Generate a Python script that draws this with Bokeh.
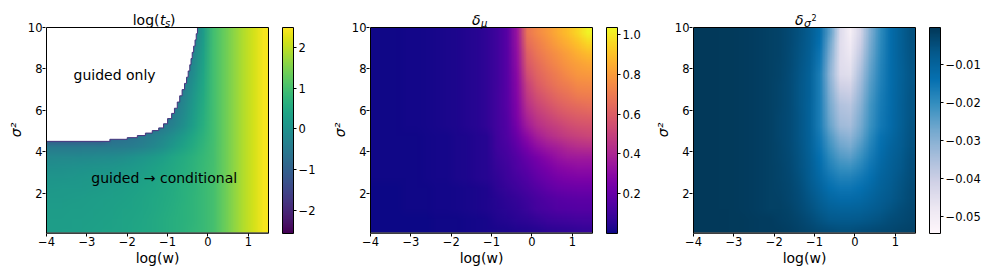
import numpy as np
import zlib, struct, base64
from bokeh.plotting import figure
from bokeh.models import (Range1d, LinearColorMapper, ColorBar, FixedTicker,
                          CustomJSTickFormatter, Label, ColumnDataSource)
from bokeh.layouts import row
from bokeh.core.properties import value
from bokeh.palettes import Viridis256, Plasma256
from bokeh.embed import file_html
from bokeh.resources import INLINE

FONT = "DejaVu Sans"
N = None

# ---------------- axes / grid definition ----------------
X_TICKS = [-4, -3, -2, -1, 0, 1]
Y_TICKS = [2, 4, 6, 8, 10]
X_MIN, X_MAX = -4.0, 1.5        # log(w)
Y_MIN, Y_MAX = 0.0, 10.0        # sigma^2 (grid extent)
Y_VIEW_MIN = 0.05

# ---------------- panel 1: log(t_s) (rows bottom->top, 22 cols of 0.25 in log w, rows of 0.5 in sigma^2)
log_ts = [
    [0.25, 0.26, 0.27, 0.28, 0.30, 0.32, 0.34, 0.37, 0.40, 0.44, 0.49, 0.55, 0.61, 0.68, 0.76, 0.86, 1.00, 1.30, 1.62, 1.90, 2.17, 2.42],
    [0.24, 0.25, 0.26, 0.27, 0.29, 0.31, 0.33, 0.36, 0.39, 0.43, 0.48, 0.54, 0.60, 0.67, 0.75, 0.86, 1.00, 1.30, 1.62, 1.90, 2.17, 2.42],
    [0.22, 0.23, 0.24, 0.25, 0.27, 0.29, 0.31, 0.34, 0.37, 0.41, 0.46, 0.52, 0.59, 0.66, 0.75, 0.86, 1.00, 1.30, 1.62, 1.90, 2.17, 2.42],
    [0.18, 0.19, 0.20, 0.22, 0.24, 0.26, 0.28, 0.31, 0.35, 0.39, 0.44, 0.50, 0.57, 0.65, 0.74, 0.85, 1.00, 1.30, 1.62, 1.90, 2.17, 2.42],
    [0.13, 0.14, 0.15, 0.17, 0.19, 0.21, 0.24, 0.27, 0.31, 0.36, 0.41, 0.48, 0.55, 0.64, 0.73, 0.85, 1.00, 1.30, 1.62, 1.90, 2.17, 2.42],
    [0.06, 0.07, 0.08, 0.10, 0.12, 0.14, 0.17, 0.21, 0.26, 0.31, 0.37, 0.45, 0.53, 0.62, 0.72, 0.84, 0.99, 1.30, 1.62, 1.90, 2.17, 2.42],
    [-0.04, -0.03, -0.02, 0.00, 0.02, 0.04, 0.07, 0.11, 0.16, 0.22, 0.30, 0.39, 0.49, 0.59, 0.70, 0.83, 0.99, 1.30, 1.62, 1.90, 2.17, 2.42],
    [-0.20, -0.19, -0.18, -0.17, -0.15, -0.13, -0.10, -0.06, 0.00, 0.08, 0.18, 0.29, 0.42, 0.55, 0.68, 0.82, 0.98, 1.29, 1.62, 1.90, 2.17, 2.42],
    [-0.55, -0.55, -0.54, -0.53, -0.52, -0.51, -0.50, -0.47, -0.42, -0.34, -0.22, -0.06, 0.13, 0.34, 0.55, 0.76, 0.97, 1.29, 1.62, 1.90, 2.17, 2.42],
    [N, N, N, N, N, N, -0.80, -0.75, -0.65, -0.52, -0.38, -0.22, -0.03, 0.20, 0.45, 0.70, 0.96, 1.29, 1.62, 1.90, 2.17, 2.42],
    [N, N, N, N, N, N, N, N, N, N, -0.70, -0.55, -0.32, -0.05, 0.28, 0.62, 0.96, 1.29, 1.62, 1.90, 2.17, 2.42],
    [N, N, N, N, N, N, N, N, N, N, N, -0.70, -0.45, -0.15, 0.22, 0.58, 0.96, 1.29, 1.62, 1.90, 2.17, 2.42],
    [N, N, N, N, N, N, N, N, N, N, N, N, -0.60, -0.25, 0.15, 0.55, 0.95, 1.29, 1.62, 1.90, 2.17, 2.42],
    [N, N, N, N, N, N, N, N, N, N, N, N, -0.70, -0.35, 0.08, 0.50, 0.95, 1.29, 1.62, 1.90, 2.17, 2.42],
    [N, N, N, N, N, N, N, N, N, N, N, N, N, -0.45, 0.00, 0.45, 0.95, 1.29, 1.62, 1.90, 2.17, 2.42],
    [N, N, N, N, N, N, N, N, N, N, N, N, N, -0.50, -0.10, 0.40, 0.95, 1.29, 1.62, 1.90, 2.17, 2.42],
    [N, N, N, N, N, N, N, N, N, N, N, N, N, -0.55, -0.20, 0.35, 0.95, 1.29, 1.62, 1.90, 2.17, 2.42],
    [N, N, N, N, N, N, N, N, N, N, N, N, N, -0.60, -0.30, 0.30, 0.95, 1.29, 1.62, 1.90, 2.17, 2.42],
    [N, N, N, N, N, N, N, N, N, N, N, N, N, -0.65, -0.40, 0.25, 0.95, 1.29, 1.62, 1.90, 2.17, 2.42],
    [N, N, N, N, N, N, N, N, N, N, N, N, N, -0.70, -0.50, 0.20, 0.95, 1.29, 1.62, 1.90, 2.17, 2.42],
]
# "guided only" boundary as steps: for sigma^2 from boundary_sigma2[k] up to the next level,
# t_s is undefined left of boundary_logw[k]
boundary_sigma2 = [4.50, 4.60, 4.68, 4.78, 4.90, 5.02, 5.15, 5.35, 5.60, 5.85, 6.10, 6.40,
                   6.70, 7.00, 7.30, 7.60, 7.90, 8.20, 8.50, 8.80, 9.10, 9.40, 9.70]
boundary_logw = [-2.43, -2.00, -1.75, -1.55, -1.38, -1.22, -1.10, -1.00, -0.90, -0.83, -0.76, -0.70,
                 -0.64, -0.58, -0.53, -0.49, -0.45, -0.42, -0.39, -0.355, -0.32, -0.29, -0.26]
ts_low, ts_high = -2.57, 2.49
ts_ticks = [-2, -1, 0, 1, 2]
ann_x = [-3.33, -2.89]
ann_y = [7.72, 2.75]
ann_text = ["guided only", "guided \u2192 conditional"]

# ---------------- panel 2: delta_mu
delta_mu = [
    [0.004, 0.004, 0.004, 0.005, 0.005, 0.006, 0.007, 0.008, 0.010, 0.012, 0.015, 0.020, 0.025, 0.030, 0.035, 0.040, 0.050, 0.060, 0.065, 0.070, 0.075, 0.080],
    [0.004, 0.004, 0.004, 0.005, 0.005, 0.006, 0.007, 0.008, 0.010, 0.012, 0.015, 0.020, 0.035, 0.045, 0.055, 0.065, 0.080, 0.095, 0.105, 0.110, 0.115, 0.115],
    [0.006, 0.006, 0.006, 0.007, 0.008, 0.009, 0.011, 0.013, 0.016, 0.020, 0.026, 0.034, 0.045, 0.055, 0.070, 0.090, 0.115, 0.130, 0.145, 0.150, 0.155, 0.155],
    [0.006, 0.006, 0.006, 0.007, 0.008, 0.009, 0.011, 0.013, 0.016, 0.020, 0.026, 0.034, 0.050, 0.065, 0.080, 0.100, 0.125, 0.145, 0.160, 0.170, 0.175, 0.175],
    [0.006, 0.006, 0.006, 0.007, 0.008, 0.009, 0.011, 0.013, 0.016, 0.020, 0.026, 0.034, 0.060, 0.080, 0.100, 0.125, 0.155, 0.180, 0.200, 0.210, 0.215, 0.215],
    [0.008, 0.008, 0.008, 0.009, 0.010, 0.012, 0.015, 0.018, 0.023, 0.030, 0.039, 0.050, 0.070, 0.095, 0.120, 0.150, 0.185, 0.215, 0.240, 0.255, 0.260, 0.260],
    [0.008, 0.008, 0.008, 0.009, 0.010, 0.012, 0.015, 0.018, 0.023, 0.030, 0.039, 0.050, 0.080, 0.105, 0.140, 0.175, 0.215, 0.250, 0.280, 0.300, 0.310, 0.310],
    [0.008, 0.008, 0.008, 0.009, 0.010, 0.012, 0.015, 0.018, 0.023, 0.030, 0.039, 0.050, 0.090, 0.115, 0.155, 0.200, 0.245, 0.290, 0.325, 0.350, 0.360, 0.360],
    [0.008, 0.008, 0.008, 0.009, 0.010, 0.012, 0.015, 0.018, 0.023, 0.030, 0.039, 0.050, 0.100, 0.130, 0.180, 0.250, 0.310, 0.350, 0.380, 0.410, 0.430, 0.440],
    [0.008, 0.008, 0.008, 0.009, 0.010, 0.012, 0.015, 0.018, 0.023, 0.030, 0.039, 0.050, 0.105, 0.140, 0.210, 0.300, 0.370, 0.420, 0.450, 0.480, 0.500, 0.510],
    [0.010, 0.010, 0.010, 0.011, 0.012, 0.015, 0.020, 0.025, 0.030, 0.040, 0.050, 0.070, 0.110, 0.150, 0.240, 0.360, 0.430, 0.470, 0.500, 0.530, 0.550, 0.560],
    [0.010, 0.010, 0.010, 0.011, 0.012, 0.015, 0.020, 0.025, 0.030, 0.040, 0.050, 0.070, 0.110, 0.155, 0.260, 0.400, 0.470, 0.510, 0.550, 0.580, 0.600, 0.610],
    [0.010, 0.010, 0.010, 0.011, 0.012, 0.015, 0.020, 0.025, 0.030, 0.040, 0.050, 0.070, 0.110, 0.160, 0.270, 0.440, 0.510, 0.560, 0.600, 0.630, 0.650, 0.660],
    [0.010, 0.010, 0.010, 0.011, 0.012, 0.015, 0.020, 0.025, 0.030, 0.040, 0.050, 0.070, 0.110, 0.160, 0.280, 0.470, 0.550, 0.600, 0.640, 0.670, 0.700, 0.710],
    [0.010, 0.010, 0.010, 0.011, 0.012, 0.015, 0.020, 0.025, 0.030, 0.040, 0.050, 0.070, 0.105, 0.160, 0.290, 0.500, 0.590, 0.640, 0.680, 0.710, 0.740, 0.750],
    [0.010, 0.010, 0.010, 0.011, 0.012, 0.015, 0.020, 0.025, 0.030, 0.040, 0.050, 0.070, 0.100, 0.160, 0.300, 0.540, 0.620, 0.670, 0.710, 0.750, 0.780, 0.790],
    [0.010, 0.010, 0.010, 0.011, 0.012, 0.015, 0.020, 0.025, 0.030, 0.040, 0.050, 0.070, 0.100, 0.160, 0.310, 0.580, 0.650, 0.700, 0.740, 0.780, 0.810, 0.830],
    [0.010, 0.010, 0.010, 0.011, 0.012, 0.015, 0.020, 0.025, 0.030, 0.040, 0.050, 0.070, 0.100, 0.160, 0.320, 0.610, 0.680, 0.730, 0.770, 0.810, 0.850, 0.880],
    [0.010, 0.010, 0.010, 0.011, 0.012, 0.015, 0.020, 0.025, 0.030, 0.040, 0.050, 0.070, 0.100, 0.160, 0.330, 0.650, 0.710, 0.760, 0.810, 0.850, 0.900, 0.950],
    [0.010, 0.010, 0.010, 0.011, 0.012, 0.015, 0.020, 0.025, 0.030, 0.040, 0.050, 0.070, 0.100, 0.160, 0.340, 0.680, 0.740, 0.790, 0.840, 0.890, 0.950, 1.020],
]
mu_low, mu_high = 0.002, 1.033
mu_ticks = [0.2, 0.4, 0.6, 0.8, 1.0]

# ---------------- panel 3: delta_sigma^2 (in units of 1e-3)
delta_var_milli = [
    [-0.7, -0.7, -0.8, -0.9, -1.0, -1.1, -1.3, -1.45, -1.6, -2.0, -2.6, -3.4, -4.3, -5.0, -5.3, -5.3, -5.0, -4.6, -4.1, -3.6, -3.1, -2.6],
    [-0.7, -0.7, -0.8, -0.9, -1.0, -1.1, -1.3, -1.45, -1.9, -2.5, -3.3, -4.5, -6.0, -7.2, -7.7, -7.7, -7.3, -6.6, -5.7, -4.8, -4.0, -3.2],
    [-0.8, -0.8, -0.9, -1.0, -1.2, -1.4, -1.7, -2.1, -2.2, -2.9, -4.0, -5.6, -7.5, -9.3, -10.0, -10.0, -9.5, -8.5, -7.2, -6.0, -4.8, -3.7],
    [-0.8, -0.8, -0.9, -1.0, -1.2, -1.4, -1.7, -2.1, -2.4, -3.2, -4.5, -6.5, -9.0, -11.5, -12.5, -12.5, -11.8, -10.3, -8.5, -7.0, -5.5, -4.1],
    [-0.8, -0.8, -0.9, -1.0, -1.2, -1.4, -1.7, -2.1, -2.6, -3.5, -5.0, -7.3, -10.5, -13.5, -15.0, -15.0, -14.0, -12.0, -9.5, -7.8, -6.0, -4.4],
    [-0.8, -0.8, -0.9, -1.0, -1.2, -1.4, -1.7, -2.1, -2.8, -3.7, -5.4, -8.0, -12.0, -15.5, -17.5, -17.5, -16.0, -13.5, -10.5, -8.5, -6.5, -4.7],
    [-0.8, -0.8, -0.9, -1.0, -1.2, -1.4, -1.7, -2.1, -2.9, -3.9, -5.7, -8.5, -13.0, -17.5, -20.5, -21.0, -18.5, -15.0, -11.5, -9.2, -7.0, -5.0],
    [-0.8, -0.8, -0.9, -1.0, -1.2, -1.4, -1.7, -2.1, -3.0, -4.0, -6.0, -9.0, -14.0, -19.5, -23.5, -24.5, -21.0, -16.5, -12.5, -9.8, -7.5, -5.2],
    [-0.8, -0.8, -0.9, -1.0, -1.2, -1.4, -1.7, -2.1, -3.1, -4.2, -6.2, -9.5, -15.0, -21.5, -26.5, -28.0, -23.5, -18.0, -13.5, -10.5, -8.0, -5.5],
    [-0.8, -0.8, -0.9, -1.0, -1.2, -1.4, -1.7, -2.1, -3.2, -4.3, -6.4, -9.8, -16.0, -23.5, -29.5, -31.0, -26.0, -19.5, -14.5, -11.5, -8.5, -5.8],
    [-0.8, -0.8, -0.9, -1.0, -1.2, -1.4, -1.7, -2.1, -3.2, -4.3, -6.5, -10.0, -17.0, -26.0, -33.0, -34.0, -28.0, -21.0, -16.0, -12.5, -9.0, -6.0],
    [-0.8, -0.8, -0.9, -1.0, -1.2, -1.4, -1.7, -2.1, -3.2, -4.3, -6.5, -10.0, -17.0, -27.0, -34.5, -35.5, -29.0, -21.5, -16.2, -12.6, -9.1, -6.1],
    [-0.8, -0.8, -0.9, -1.0, -1.2, -1.4, -1.7, -2.1, -3.1, -4.3, -6.6, -9.9, -17.0, -28.0, -36.0, -37.0, -30.5, -22.0, -16.5, -12.7, -9.2, -6.2],
    [-0.8, -0.8, -0.9, -1.0, -1.2, -1.4, -1.7, -2.1, -3.1, -4.3, -6.6, -9.8, -17.0, -29.0, -38.5, -39.5, -32.0, -23.0, -17.0, -12.8, -9.3, -6.3],
    [-0.8, -0.8, -0.9, -1.0, -1.2, -1.4, -1.7, -2.1, -3.0, -4.3, -6.6, -9.7, -17.0, -30.0, -41.0, -42.0, -33.5, -24.0, -17.5, -13.0, -9.4, -6.4],
    [-0.8, -0.8, -0.9, -1.0, -1.2, -1.4, -1.7, -2.1, -2.9, -4.2, -6.5, -9.5, -17.0, -31.0, -44.0, -45.0, -35.0, -25.0, -18.0, -13.0, -9.5, -6.5],
    [-0.8, -0.8, -0.9, -1.0, -1.2, -1.4, -1.7, -2.1, -2.8, -4.1, -6.2, -9.1, -16.0, -30.0, -44.5, -46.5, -37.0, -26.0, -18.5, -13.0, -9.4, -6.2],
    [-0.8, -0.8, -0.9, -1.0, -1.2, -1.4, -1.7, -2.1, -2.7, -4.0, -6.0, -8.7, -15.0, -28.5, -44.5, -48.0, -39.0, -27.0, -19.0, -13.0, -9.2, -6.0],
    [-0.8, -0.8, -0.9, -1.0, -1.2, -1.4, -1.7, -2.1, -2.6, -3.9, -5.7, -8.3, -14.0, -27.0, -44.5, -49.5, -40.5, -28.0, -19.5, -13.0, -9.0, -5.7],
    [-0.8, -0.8, -0.9, -1.0, -1.2, -1.4, -1.7, -2.1, -2.6, -3.8, -5.5, -8.0, -13.0, -25.0, -44.0, -51.0, -42.0, -29.0, -20.0, -13.0, -9.0, -5.5],
]
var_low, var_high = -0.0544, -0.0004
var_ticks = [-0.05, -0.04, -0.03, -0.02, -0.01]

PUBU = ['#fff7fb', '#ece7f2', '#d0d1e6', '#a6bddb', '#74a9cf', '#3690c0', '#0570b0', '#045a8d', '#023858']


def hex_rgb(c):
    return [int(c[i:i + 2], 16) for i in (1, 3, 5)]


def interp_palette(cols, n=256):
    rgb = np.array([hex_rgb(c) for c in cols], float)
    t = np.linspace(0, 1, len(cols))
    tt = np.linspace(0, 1, n)
    out = np.stack([np.interp(tt, t, rgb[:, k]) for k in range(3)], 1)
    return ['#%02x%02x%02x' % tuple(int(round(v)) for v in r) for r in out]


PuBu256 = interp_palette(PUBU)


def colorize(arr, pal, low, high, nan_hex):
    """Map values to palette colours (same rule as a LinearColorMapper); rows top->bottom."""
    rgb = np.array([hex_rgb(c) for c in pal], np.uint8)
    n = len(pal)
    idx = np.floor((arr - low) / (high - low) * n)
    idx = np.clip(np.nan_to_num(idx, nan=0), 0, n - 1).astype(int)
    out = np.zeros(arr.shape + (4,), np.uint8)
    out[..., :3] = rgb[idx]
    out[..., 3] = 255
    out[np.isnan(arr), :3] = hex_rgb(nan_hex)
    return out[::-1]


def png_url(rgba):
    h, w, _ = rgba.shape
    raw = b''.join(b'\x00' + rgba[i].tobytes() for i in range(h))

    def chunk(t, d):
        return struct.pack('>I', len(d)) + t + d + struct.pack('>I', zlib.crc32(t + d) & 0xffffffff)
    png = (b'\x89PNG\r\n\x1a\n' + chunk(b'IHDR', struct.pack('>IIBBBBB', w, h, 8, 6, 0, 0, 0))
           + chunk(b'IDAT', zlib.compress(raw, 9)) + chunk(b'IEND', b''))
    return 'data:image/png;base64,' + base64.b64encode(png).decode()


FRAME_W, FRAME_H = 222, 206
TITLE_PX = 19
PX_X = FRAME_W / (X_MAX - X_MIN)
PX_Y = FRAME_H / (Y_MAX - Y_VIEW_MIN)
DW, DH = X_MAX - X_MIN, Y_MAX - Y_MIN


def dx(px):  # pixel offset from data-box left -> data x
    return X_MIN + px / PX_X


def dy(px_above_top):  # pixels above data-box top -> data y
    return Y_MAX + px_above_top / PX_Y


def minus_fmt(nd):
    return CustomJSTickFormatter(code="""
        const s = Math.abs(tick).toFixed(%d);
        return (tick < 0 ? '\\u2212' : '') + s;
    """ % nd)


def make_fig(min_right, shift):
    p = figure(frame_width=FRAME_W + 2, frame_height=FRAME_H + TITLE_PX,
               x_range=Range1d(X_MIN - 1 / PX_X, X_MAX + 1 / PX_X),
               y_range=Range1d(Y_VIEW_MIN, Y_MAX + TITLE_PX / PX_Y),
               output_backend="svg", toolbar_location=None,
               min_border_left=50, min_border_right=min_right,
               min_border_top=0, min_border_bottom=0)
    p.margin = (8, 0, 0, shift)
    p.border_fill_alpha = 0
    p.background_fill_alpha = 0
    p.grid.visible = False
    p.outline_line_color = None
    for ax in (p.xaxis[0], p.yaxis[0]):
        ax.axis_line_color = None
        ax.major_tick_in = 0
        ax.major_tick_out = 3
        ax.major_tick_line_color = "black"
        ax.minor_tick_line_color = None
        ax.major_label_text_font = FONT
        ax.major_label_text_font_size = "11.5px"
        ax.major_label_text_color = "black"
        ax.major_label_standoff = 0
        ax.axis_label_text_font = FONT
        ax.axis_label_text_font_size = "14px"
        ax.axis_label_text_color = "black"
    p.xaxis.ticker = FixedTicker(ticks=X_TICKS)
    p.yaxis.ticker = FixedTicker(ticks=Y_TICKS)
    p.xaxis.formatter = minus_fmt(0)
    p.yaxis.formatter = minus_fmt(0)
    p.xaxis.axis_label = "log(w)"
    p.xaxis.axis_label_text_font_style = "normal"
    p.xaxis.axis_label_standoff = 1
    p.yaxis.axis_label = "\u03c3\u00b2\u2007\u2007"
    p.yaxis.axis_label_text_font_style = "italic"
    p.yaxis.axis_label_standoff = 1
    return p


def box(p):
    p.quad(left=[X_MIN], right=[X_MAX], bottom=[Y_VIEW_MIN], top=[Y_MAX],
           fill_color=None, line_color="black", line_width=1)
    p.segment(x0=[X_MIN], y0=[Y_VIEW_MIN], x1=[X_MAX], y1=[Y_VIEW_MIN], line_color="black", line_width=2)


def add_cbar(p, mapper, ticks, nd):
    cb = ColorBar(color_mapper=mapper, ticker=FixedTicker(ticks=ticks),
                  formatter=minus_fmt(nd), width=11, height=FRAME_H,
                  location=(13, 0), margin=0, padding=0,
                  major_tick_in=0, major_tick_out=3, major_tick_line_color="black",
                  minor_tick_line_color=None,
                  bar_line_color="black", bar_line_width=1,
                  label_standoff=2, major_label_text_font=FONT,
                  major_label_text_font_size="11.5px", major_label_text_color="black",
                  background_fill_alpha=0, border_line_color=None)
    p.add_layout(cb, "right")


def lab(p, x, y, text, size="14px", style="normal", align="left"):
    p.add_layout(Label(x=x, y=y, x_units="data", y_units="data", text=text,
                       text_font=FONT, text_font_size=size, text_font_style=style,
                       text_align=align, text_baseline="alphabetic", text_color="black"))


# ---------------- panel 1 ----------------
p1 = make_fig(80, -5)
ts = np.array(log_ts, dtype=float)
p1.image_url(url=[png_url(colorize(ts, Viridis256, ts_low, ts_high, "#3e4a89"))],
             x=X_MIN, y=Y_MAX, w=DW, h=DH, anchor="top_left")
m1 = LinearColorMapper(palette=Viridis256, low=ts_low, high=ts_high, nan_color="white")
nb = len(boundary_logw)
levels = boundary_sigma2 + [Y_MAX]
edge_x, edge_y = [X_MIN], [boundary_sigma2[0]]
for k in range(nb):
    edge_x += [boundary_logw[k], boundary_logw[k]]
    edge_y += [levels[k], levels[k + 1]]
p1.patch(edge_x + [X_MIN], edge_y + [Y_MAX], fill_color="white", line_color=None)
p1.line(edge_x, edge_y, line_color="#45337d", line_width=1.0)
src = ColumnDataSource(dict(x=ann_x, y=ann_y, t=ann_text))
p1.text(x="x", y="y", text="t", source=src, text_font=value(FONT), text_font_size="14px",
        text_baseline="middle", text_align="left", text_color="black")
box(p1)
add_cbar(p1, m1, ts_ticks, 0)
lab(p1, dx(113), dy(8), "log(", align="right")
lab(p1, dx(113.5), dy(8), "t", style="italic")
lab(p1, dx(118.5), dy(4), "s", size="10px", style="italic")
lab(p1, dx(123.5), dy(8), ")")

# ---------------- panel 2 ----------------
p2 = make_fig(80, -30)
mu = np.array(delta_mu, dtype=float)
m2 = LinearColorMapper(palette=Plasma256, low=mu_low, high=mu_high)
p2.image_url(url=[png_url(colorize(mu, Plasma256, mu_low, mu_high, "#ffffff"))],
             x=X_MIN, y=Y_MAX, w=DW, h=DH, anchor="top_left")
box(p2)
add_cbar(p2, m2, mu_ticks, 1)
lab(p2, dx(110), dy(8), "\u03b4", style="italic", align="right")
lab(p2, dx(110.5), dy(4), "\u03bc", size="10px", style="italic")

# ---------------- panel 3 ----------------
p3 = make_fig(40, -31)
dv = np.array(delta_var_milli, dtype=float) / 1000.0
m3 = LinearColorMapper(palette=PuBu256, low=var_low, high=var_high)
p3.image_url(url=[png_url(colorize(dv, PuBu256, var_low, var_high, "#ffffff"))],
             x=X_MIN, y=Y_MAX, w=DW, h=DH, anchor="top_left")
box(p3)
add_cbar(p3, m3, var_ticks, 2)
lab(p3, dx(110), dy(8), "\u03b4", style="italic", align="right")
lab(p3, dx(110.5), dy(4), "\u03c3", size="11px", style="italic")
lab(p3, dx(118), dy(10), "2", size="8px")

layout = row(p1, p2, p3)
open("out.html", "w").write(file_html(layout, INLINE))
